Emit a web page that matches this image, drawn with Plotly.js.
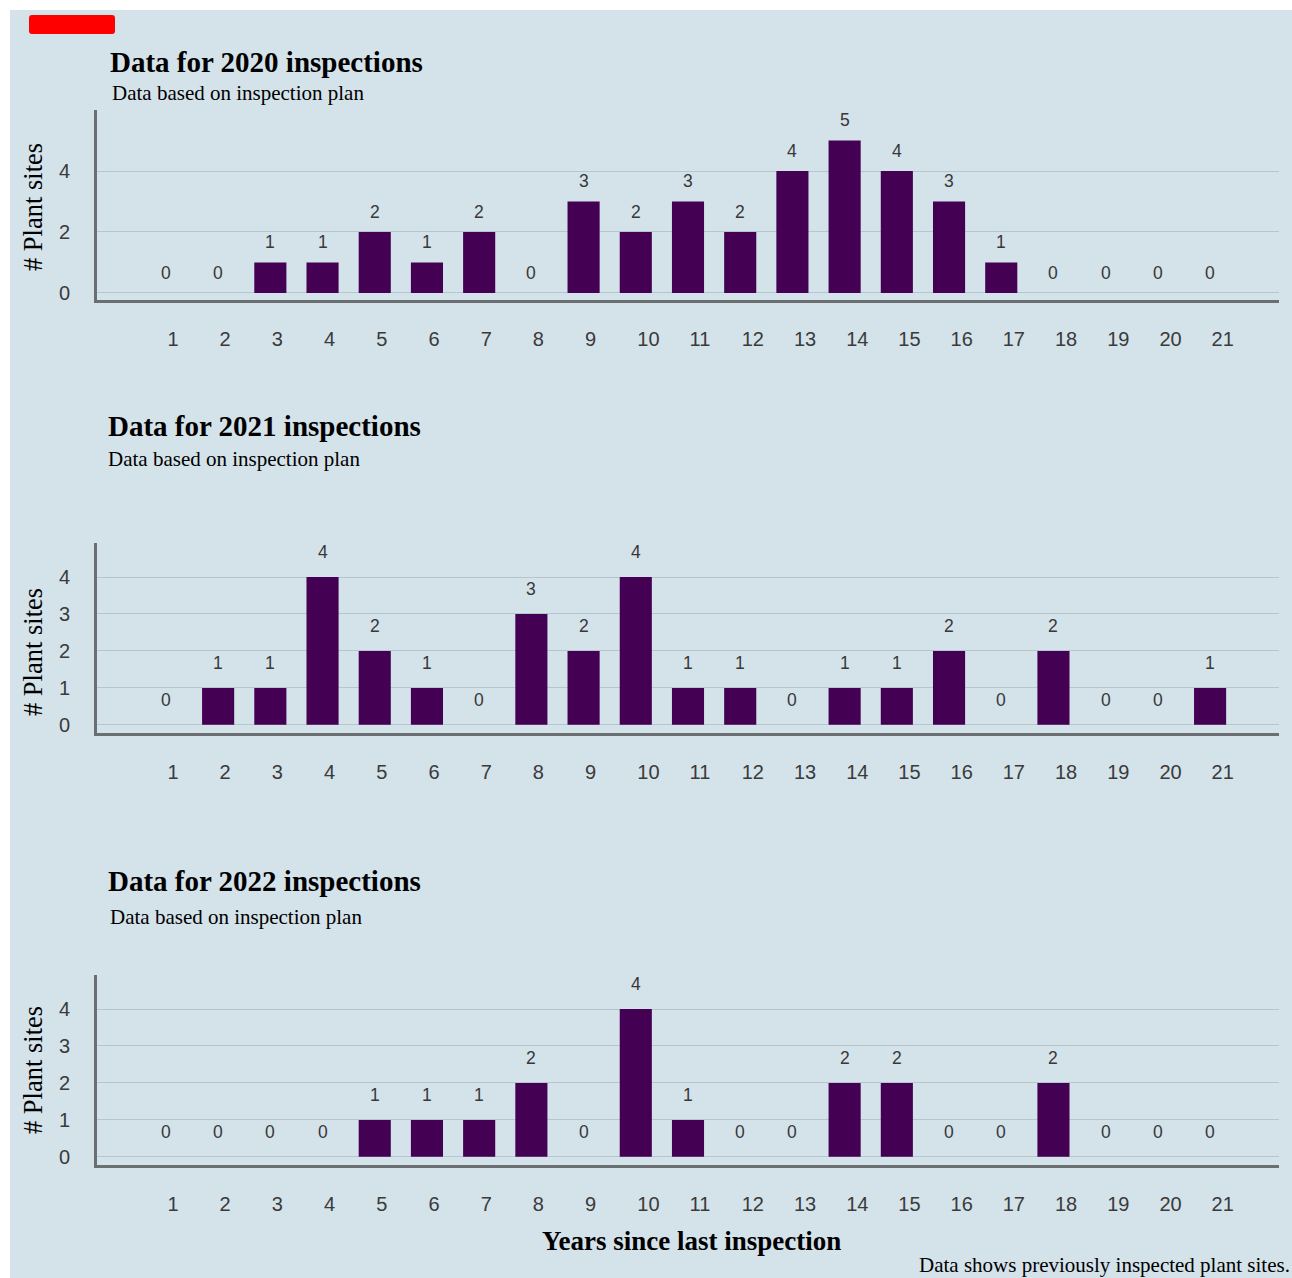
<!DOCTYPE html>
<html>
<head>
<meta charset="utf-8">
<script src="https://cdn.plot.ly/plotly-3.0.1.min.js"></script>
<style>
html,body{margin:0;padding:0;background:#ffffff;}
#chart{position:absolute;left:10px;top:10px;width:1282px;height:1268px;}
</style>
</head>
<body>
<div id="chart"></div>
<script>
const years = [1,2,3,4,5,6,7,8,9,10,11,12,13,14,15,16,17,18,19,20,21];
const sites2020 = [0,0,1,1,2,1,2,0,3,2,3,2,4,5,4,3,1,0,0,0,0];
const sites2021 = [0,1,1,4,2,1,0,3,2,4,1,1,0,1,1,2,0,2,0,0,1];
const sites2022 = [0,0,0,0,1,1,1,2,0,4,1,0,0,2,2,0,0,2,0,0,0];
const panelTitles = ["Data for 2020 inspections","Data for 2021 inspections","Data for 2022 inspections"];
const subtitleText = "Data based on inspection plan";
const yTitle = "# Plant sites";
const xTitle = "Years since last inspection";
const captionText = "Data shows previously inspected plant sites.";
const yTicks2020 = [0, 2, 4];
const yTicksOther = [0, 1, 2, 3, 4];

const W = 1282, H = 1268;
const px = x => x / W;
const py = y => 1 - y / H;

const BAR = '#440154';
const GRID = '#b7c5ce';
const AXIS = '#6b6f72';
const TICKC = '#3a3a3a';
const serif = '"Liberation Serif", "Times New Roman", serif';
const sans = '"Liberation Sans", Arial, sans-serif';

const series = [sites2020, sites2021, sites2022];
const axNames = ['', '2', '3'];
const yDomains = [[py(290), py(100)], [py(723), py(533)], [py(1155), py(965)]];
const yRanges = [[-0.23, 6.0], [-0.22, 4.92], [-0.22, 4.92]];
const yTickSets = [yTicks2020, yTicksOther, yTicksOther];
const labelShift = [20, 25, 25];

const traces = series.map((vals, i) => ({
  type: 'bar',
  x: years,
  y: vals,
  xaxis: 'x' + axNames[i],
  yaxis: 'y' + axNames[i],
  marker: {color: BAR, line: {width: 0}},
  hoverinfo: 'skip',
  showlegend: false
}));

// rounded red badge (pixel box converted to paper coords)
const bx0 = 19, bx1 = 105, by0 = 5, by1 = 24, r = 3;
const badgePath =
  `M ${px(bx0 + r)} ${py(by0)} L ${px(bx1 - r)} ${py(by0)} Q ${px(bx1)} ${py(by0)} ${px(bx1)} ${py(by0 + r)} ` +
  `L ${px(bx1)} ${py(by1 - r)} Q ${px(bx1)} ${py(by1)} ${px(bx1 - r)} ${py(by1)} ` +
  `L ${px(bx0 + r)} ${py(by1)} Q ${px(bx0)} ${py(by1)} ${px(bx0)} ${py(by1 - r)} ` +
  `L ${px(bx0)} ${py(by0 + r)} Q ${px(bx0)} ${py(by0)} ${px(bx0 + r)} ${py(by0)} Z`;

const layout = {
  width: W, height: H,
  margin: {l: 0, r: 0, t: 0, b: 0},
  paper_bgcolor: '#d4e2ea',
  plot_bgcolor: 'rgba(0,0,0,0)',
  bargap: 0.385,
  showlegend: false,
  annotations: [],
  shapes: [{
    type: 'path', xref: 'paper', yref: 'paper', path: badgePath,
    fillcolor: '#ff0000', line: {width: 0}
  }]
};

series.forEach((vals, i) => {
  const xa = 'xaxis' + axNames[i];
  const ya = 'yaxis' + axNames[i];
  layout[xa] = {
    domain: [px(87), px(1269)],
    anchor: 'y' + axNames[i],
    range: [-0.32, 22.32],
    tickmode: 'array', tickvals: years, ticktext: years.map(String),
    ticks: '', showgrid: false, zeroline: false,
    showline: true, linecolor: AXIS, linewidth: 3,
    tickfont: {family: sans, size: 20, color: TICKC},
    ticklabelposition: 'outside right',
    ticklabelstandoff: 19,
    fixedrange: true
  };
  layout[ya] = {
    domain: yDomains[i],
    anchor: 'x' + axNames[i],
    range: yRanges[i],
    tickmode: 'array', tickvals: yTickSets[i], ticktext: yTickSets[i].map(String),
    ticks: '', showgrid: true, gridcolor: GRID, gridwidth: 1,
    zeroline: false,
    showline: true, linecolor: AXIS, linewidth: 3,
    tickfont: {family: sans, size: 20, color: TICKC},
    ticklabelstandoff: 20,
    fixedrange: true
  };
  vals.forEach((v, k) => {
    layout.annotations.push({
      xref: 'x' + axNames[i], yref: 'y' + axNames[i],
      x: years[k], y: v, text: String(v), showarrow: false,
      yanchor: 'middle', xanchor: 'center', yshift: labelShift[i],
      font: {family: sans, size: 17.5, color: '#383838'}
    });
  });
});

const titlePos = [[98, 52], [96, 416], [96, 871]];
const subPos = [[100, 83], [96, 449], [98, 907]];
const yTitlePos = [197, 642, 1060];
for (let i = 0; i < 3; i++) {
  layout.annotations.push({
    xref: 'paper', yref: 'paper', x: px(titlePos[i][0]), y: py(titlePos[i][1]),
    xanchor: 'left', yanchor: 'middle', showarrow: false,
    text: '<b>' + panelTitles[i] + '</b>',
    font: {family: serif, size: 29, color: '#000000'}
  });
  layout.annotations.push({
    xref: 'paper', yref: 'paper', x: px(subPos[i][0]), y: py(subPos[i][1]),
    xanchor: 'left', yanchor: 'middle', showarrow: false,
    text: subtitleText,
    font: {family: serif, size: 21, color: '#000000'}
  });
  layout.annotations.push({
    xref: 'paper', yref: 'paper', x: px(23), y: py(yTitlePos[i]),
    xanchor: 'center', yanchor: 'middle', showarrow: false, textangle: -90,
    text: yTitle,
    font: {family: serif, size: 26.5, color: '#000000'}
  });
}
layout.annotations.push({
  xref: 'paper', yref: 'paper', x: px(681), y: py(1231),
  xanchor: 'center', yanchor: 'middle', showarrow: false,
  text: '<b>' + xTitle + '</b>',
  font: {family: serif, size: 27, color: '#000000'}
});
layout.annotations.push({
  xref: 'paper', yref: 'paper', x: px(1282), y: py(1255),
  xanchor: 'right', yanchor: 'middle', showarrow: false,
  text: captionText,
  font: {family: serif, size: 21, color: '#000000'}
});

Plotly.newPlot('chart', traces, layout, {displayModeBar: false, staticPlot: true});
</script>
</body>
</html>
